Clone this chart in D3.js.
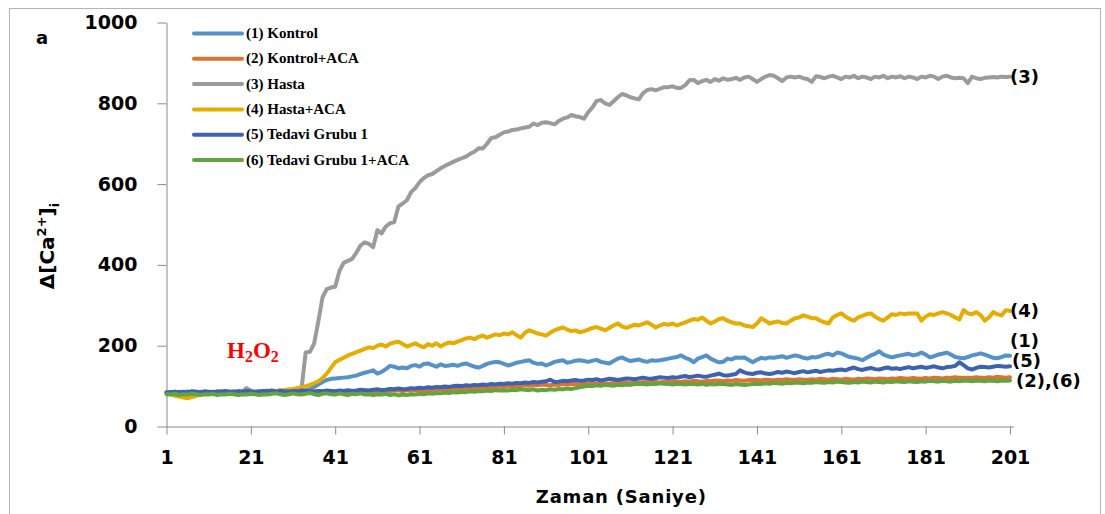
<!DOCTYPE html>
<html>
<head>
<meta charset="utf-8">
<script src="https://cdn.jsdelivr.net/npm/d3@7"></script>
<style>
  html, body { margin: 0; padding: 0; background: #fff; }
  svg { display: block; }
</style>
</head>
<body>
<svg id="chart" width="1105" height="514"></svg>
<script>
// Time axis: seconds 1..201
const seconds = d3.range(1, 202);
const xTickValues = [1, 21, 41, 61, 81, 101, 121, 141, 161, 181, 201];
const yTickValues = [0, 200, 400, 600, 800, 1000];

const seriesNames = [
  "(1) Kontrol",
  "(2) Kontrol+ACA",
  "(3) Hasta",
  "(4) Hasta+ACA",
  "(5) Tedavi Grubu 1",
  "(6) Tedavi Grubu 1+ACA"
];
const seriesColors = ["#5592CA", "#DD7330", "#9B9B9B", "#E6AC00", "#3D62B2", "#64A33F"];

const kontrol = [
  84,85,83,86,84,85,87,84,86,85,
  84,86,85,87,85,86,84,87,86,85,
  87,86,88,85,87,88,86,87,89,88,
  87,89,88,90,92,98,104,110,115,118,
  119,120,121,122,124,126,130,133,136,139,
  131,135,142,150,148,144,146,144,150,152,
  148,155,156,152,148,154,150,151,153,150,
  154,156,152,148,146,150,155,158,160,159,
  155,151,154,158,160,162,164,158,155,156,
  151,155,160,162,164,158,160,163,164,162,
  160,163,165,160,158,156,162,168,171,166,
  162,164,166,162,160,164,163,164,166,168,
  170,172,176,170,166,159,168,172,176,168,
  163,159,160,168,166,171,170,171,165,159,
  165,170,168,171,170,172,174,170,173,176,
  174,170,168,172,171,174,178,180,176,183,
  181,176,172,170,168,164,170,176,180,186,
  178,174,171,174,176,178,180,176,178,183,
  178,171,174,178,180,183,178,172,170,169,
  172,176,178,181,178,174,170,169,172,176,
  175
];

const kontrolAca = [
  83,82,84,83,82,84,83,85,84,83,
  84,83,85,84,83,85,84,86,85,84,
  85,84,86,85,84,86,85,87,86,85,
  86,85,87,86,85,87,86,88,87,86,
  87,86,88,87,86,88,87,89,88,87,
  88,87,89,88,90,89,88,90,89,91,
  90,89,91,90,92,91,93,92,94,93,
  94,95,94,96,95,97,96,98,97,99,
  98,100,99,101,100,102,101,103,102,104,
  103,102,104,103,105,104,106,105,104,106,
  105,107,106,108,107,106,108,107,109,108,
  107,109,108,110,109,111,110,109,111,110,
  112,111,110,112,111,113,112,111,113,112,
  114,113,112,114,113,115,114,113,115,116,
  115,114,116,115,114,116,115,117,116,115,
  117,116,115,117,116,118,117,116,118,117,
  116,118,117,116,118,117,119,118,117,119,
  118,117,119,118,120,119,118,120,119,118,
  120,119,121,120,119,121,120,122,121,120,
  121,120,122,121,120,122,121,123,122,121,
  122
];

const hasta = [
  85,84,86,83,85,87,84,86,85,84,
  83,86,85,87,84,86,88,85,87,95,
  88,86,84,87,89,86,88,90,87,89,
  91,90,92,183,185,205,260,320,340,344,
  346,385,405,410,415,430,448,456,452,444,
  486,478,495,503,506,545,552,560,580,590,
  605,615,622,625,632,639,645,650,655,660,
  664,668,675,680,689,688,700,714,716,722,
  728,730,734,735,738,740,742,750,746,752,
  753,751,748,756,762,765,771,768,766,762,
  778,790,806,808,800,796,805,815,823,820,
  815,812,810,825,833,835,832,836,840,840,
  842,838,838,845,857,858,850,855,858,853,
  860,856,862,858,860,863,858,864,866,860,
  853,860,866,870,868,862,855,864,866,864,
  866,862,860,853,867,865,862,866,868,864,
  860,866,864,868,862,866,864,860,866,864,
  868,862,866,864,867,862,866,864,860,866,
  864,868,866,860,866,868,864,862,863,862,
  850,866,862,860,863,864,865,864,866,865,
  866
];

const hastaAca = [
  82,80,76,74,72,70,73,76,80,81,
  82,80,83,84,82,85,84,86,83,85,
  84,86,85,87,86,88,87,89,90,92,
  93,95,97,100,103,107,112,120,131,145,
  159,165,170,176,180,184,188,192,196,194,
  200,203,198,205,208,210,204,198,202,206,
  200,196,204,200,206,198,204,208,206,210,
  214,218,220,216,222,225,220,224,228,226,
  230,228,233,226,220,232,238,234,230,228,
  225,232,238,242,245,240,236,238,233,236,
  240,244,246,242,238,244,250,255,248,244,
  248,252,250,254,258,252,245,250,254,252,
  255,250,254,258,262,266,264,270,262,255,
  260,266,268,262,258,255,255,250,248,246,
  255,268,262,255,258,260,256,255,262,268,
  270,275,272,268,268,262,258,255,270,276,
  280,272,266,262,270,274,278,280,272,266,
  262,270,278,276,280,278,280,280,280,262,
  272,278,276,280,283,280,276,270,265,288,
  280,278,283,276,262,270,283,278,275,288,
  286
];

const tedavi = [
  84,85,86,84,86,85,87,86,85,87,
  86,85,87,86,88,86,85,87,86,88,
  87,85,86,88,87,89,86,88,87,86,
  88,87,89,88,87,86,88,87,89,88,
  87,89,88,90,88,89,91,90,89,91,
  92,90,91,93,92,94,92,93,95,94,
  96,95,97,96,98,97,99,98,100,101,
  100,102,101,103,102,104,103,105,104,106,
  105,107,106,108,107,109,108,110,109,111,
  112,116,110,111,113,112,114,115,113,114,
  116,115,117,114,116,118,117,115,117,119,
  118,117,119,121,119,118,120,122,121,120,
  122,121,123,125,122,124,126,124,123,126,
  128,131,127,126,128,130,139,134,131,130,
  133,134,131,130,132,135,133,136,134,132,
  135,137,134,136,138,135,137,139,138,140,
  141,139,143,146,142,140,143,145,142,141,
  144,146,143,144,142,145,147,144,146,148,
  145,147,149,146,144,147,148,150,159,152,
  144,141,145,148,147,146,148,150,149,148,
  149
];

const tedaviAca = [
  80,79,81,78,80,79,81,80,78,80,
  79,81,78,80,79,81,80,78,80,79,
  81,80,78,80,79,81,82,80,78,80,
  82,80,79,81,83,80,78,81,82,80,
  79,82,80,78,81,80,82,79,80,78,
  80,79,81,78,80,77,79,78,80,79,
  81,80,82,81,83,82,84,83,85,84,
  86,85,87,86,88,87,89,88,90,89,
  90,89,91,90,92,91,90,92,89,91,
  90,92,91,93,92,94,93,95,97,99,
  101,100,102,101,103,102,101,103,102,104,
  103,105,106,105,104,106,105,107,106,105,
  104,106,105,104,106,105,104,106,103,105,
  104,106,105,104,103,105,104,103,104,105,
  106,105,107,106,108,107,106,108,107,109,
  108,107,109,108,110,109,108,110,109,111,
  110,109,108,110,109,111,110,109,111,110,
  109,111,110,112,111,110,112,111,110,112,
  111,113,112,111,113,112,111,113,112,114,
  113,112,114,113,112,114,113,112,114,113,
  114
];

const seriesValues = [kontrol, kontrolAca, hasta, hastaAca, tedavi, tedaviAca];

// Right-hand curve labels (value = vertical anchor on the y scale)
const endLabels = [
  { text: "(3)", value: 866, dx: 0 },
  { text: "(4)", value: 286, dx: 0 },
  { text: "(1)", value: 212, dx: 0 },
  { text: "(5)", value: 162, dx: 2 },
  { text: "(2),(6)", value: 113, dx: 6 }
];

const svg = d3.select("#chart");

// Outer frame
svg.append("rect")
  .attr("x", 9.5).attr("y", 8.5)
  .attr("width", 1091).attr("height", 510)
  .attr("fill", "none").attr("stroke", "#b4b4b4").attr("stroke-width", 1);

const x = d3.scaleLinear().domain([1, 201]).range([166.5, 1010]);
const y = d3.scaleLinear().domain([0, 1000]).range([426.5, 22.5]);

const axisColor = "#8a8a8a";
const tickFont = "'DejaVu Sans', Verdana, sans-serif";

// Y axis
const yAxis = svg.append("g")
  .attr("transform", `translate(${x(1)},0)`)
  .call(d3.axisLeft(y).tickValues(yTickValues).tickSize(9).tickSizeOuter(0).tickPadding(20)
    .tickFormat(d3.format("d")));
yAxis.select(".domain").attr("stroke", axisColor);
yAxis.selectAll(".tick line").attr("stroke", axisColor);
yAxis.selectAll(".tick text")
  .attr("fill", "#000").style("font-family", tickFont)
  .style("font-weight", "bold").style("font-size", "19px");

// X axis
const xAxis = svg.append("g")
  .attr("transform", `translate(0,${y(0)})`)
  .call(d3.axisBottom(x).tickValues(xTickValues).tickSize(8).tickSizeOuter(0).tickPadding(16)
    .tickFormat(d3.format("d")));
xAxis.select(".domain").remove();
xAxis.selectAll(".tick line").attr("stroke", axisColor);
xAxis.selectAll(".tick text")
  .attr("fill", "#000").style("font-family", tickFont)
  .style("font-weight", "bold").style("font-size", "19px");
xAxis.append("line")
  .attr("x1", x(1)).attr("x2", x(201) + 4)
  .attr("y1", 0.5).attr("y2", 0.5)
  .attr("stroke", axisColor);

// Series lines
const line = d3.line()
  .x((d, i) => x(seconds[i]))
  .y(d => y(d));

svg.append("g").selectAll("path")
  .data(seriesValues)
  .join("path")
  .attr("d", d => line(d))
  .attr("fill", "none")
  .attr("stroke", (d, i) => seriesColors[i])
  .attr("stroke-width", 4)
  .attr("stroke-linejoin", "round")
  .attr("stroke-linecap", "round");

// End-of-curve labels
svg.append("g").selectAll("text")
  .data(endLabels)
  .join("text")
  .attr("x", d => x(201) + d.dx)
  .attr("y", d => y(d.value))
  .attr("dy", "0.33em")
  .style("font-family", tickFont)
  .style("font-weight", "bold")
  .style("font-size", "18px")
  .attr("fill", "#000")
  .text(d => d.text);

// H2O2 application marker
const h2o2 = svg.append("text")
  .attr("x", 227).attr("y", 358)
  .attr("fill", "#ff0000")
  .style("font-family", "'Liberation Serif', 'Times New Roman', serif")
  .style("font-weight", "bold")
  .style("font-size", "23px");
h2o2.append("tspan").text("H");
h2o2.append("tspan").attr("dy", 4).style("font-size", "16px").text("2");
h2o2.append("tspan").attr("dy", -4).text("O");
h2o2.append("tspan").attr("dy", 4).style("font-size", "16px").text("2");

// Panel letter
svg.append("text")
  .attr("x", 36).attr("y", 44)
  .style("font-family", tickFont).style("font-weight", "bold").style("font-size", "18px")
  .attr("fill", "#000").text("a");

// Axis titles
svg.append("text")
  .attr("x", (x(1) + x(201)) / 2 + 33).attr("y", 503)
  .attr("text-anchor", "middle")
  .style("font-family", tickFont).style("font-weight", "bold").style("font-size", "18px")
  .style("letter-spacing", "0.8px")
  .attr("fill", "#000").text("Zaman (Saniye)");

const yTitle = svg.append("text")
  .attr("transform", "translate(54,246) rotate(-90)")
  .attr("text-anchor", "middle")
  .style("font-family", tickFont).style("font-weight", "bold").style("font-size", "20px")
  .attr("fill", "#000");
yTitle.append("tspan").text("Δ[Ca");
yTitle.append("tspan").attr("dy", -8).style("font-size", "13px").text("2+");
yTitle.append("tspan").attr("dy", 8).text("]");
yTitle.append("tspan").attr("dy", 5).style("font-size", "13px").text("i");

// Legend
const legend = svg.append("g");
const legendRows = legend.selectAll("g")
  .data(seriesNames)
  .join("g")
  .attr("transform", (d, i) => `translate(194,${33.5 + i * 25.3})`);
legendRows.append("line")
  .attr("x1", 0).attr("x2", 48)
  .attr("stroke", (d, i) => seriesColors[i])
  .attr("stroke-width", 4).attr("stroke-linecap", "round");
legendRows.append("text")
  .attr("x", 52).attr("y", 4.5)
  .style("font-family", "'Liberation Serif', 'Times New Roman', serif")
  .style("font-weight", "bold").style("font-size", "15px")
  .attr("fill", "#000")
  .text(d => d);
</script>
</body>
</html>
